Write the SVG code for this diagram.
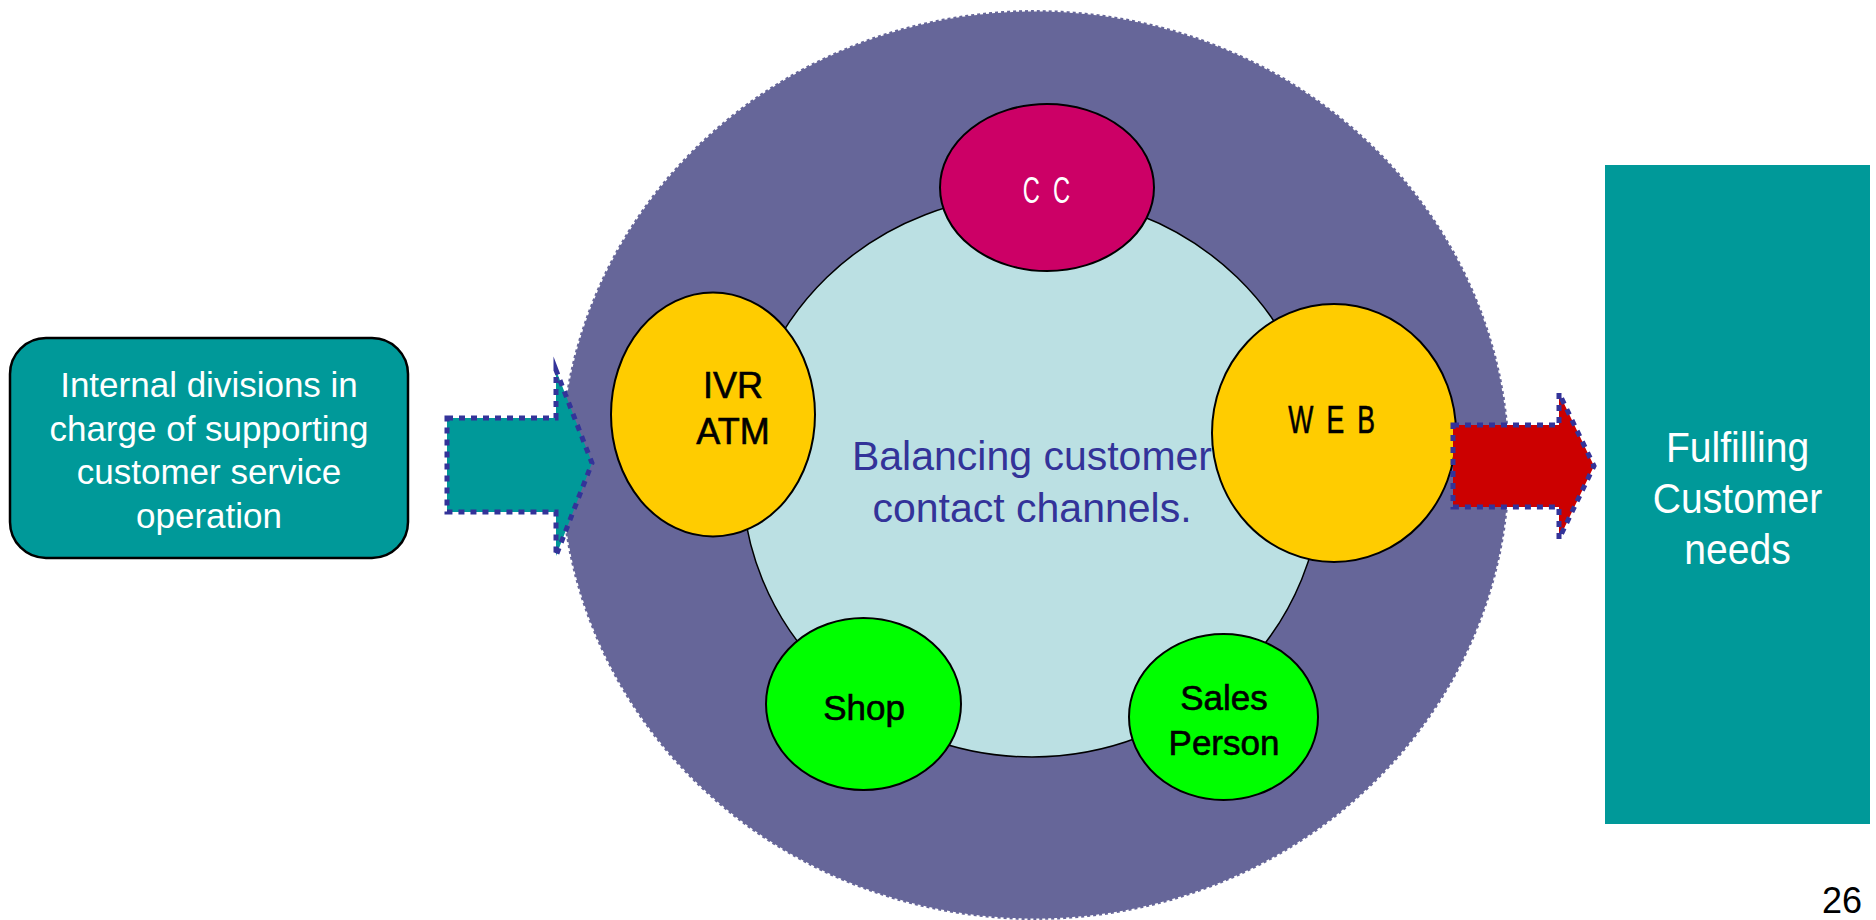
<svg xmlns="http://www.w3.org/2000/svg" width="1876" height="920" viewBox="0 0 1876 920">
  <style>
    .sans { font-family: "Liberation Sans", Arial, sans-serif; }
    .white { fill: #ffffff; }
    .dark { fill: #000000; }
    .heavy { stroke: #000000; stroke-width: 0.6; }
    .chan { stroke: #000000; stroke-width: 2; }
    .flow { stroke: #333399; stroke-width: 5; stroke-dasharray: 6 6; stroke-miterlimit: 10; stroke-linejoin: miter; }
  </style>

  <rect width="1876" height="920" fill="#ffffff"/>

  <!-- outer ring of channels -->
  <g id="ring">
    <ellipse cx="1035" cy="465" rx="475" ry="455" fill="#666699" stroke="#ffffff" stroke-width="3" stroke-dasharray="3 3"/>
  </g>

  <!-- inner hub with the central statement -->
  <g id="hub">
    <ellipse cx="1032" cy="476" rx="290" ry="281" fill="#BBE0E3" stroke="#000000" stroke-width="1.5"/>
    <text class="sans" x="1032" y="470" font-size="41" fill="#333399" text-anchor="middle">Balancing customer</text>
    <text class="sans" x="1032" y="522" font-size="41" fill="#333399" text-anchor="middle">contact channels.</text>
  </g>

  <g id="node-cc">
    <ellipse class="chan" cx="1047" cy="187.5" rx="107" ry="83.5" fill="#CC0066"/>
    <text class="sans white" transform="translate(1048,203) scale(0.64,1)" font-size="37" letter-spacing="5" text-anchor="middle">C C</text>
  </g>

  <g id="node-ivr">
    <ellipse class="chan" cx="713" cy="414.5" rx="102" ry="122" fill="#FFCC00"/>
    <text class="sans dark heavy" x="733" y="398" font-size="36" text-anchor="middle">IVR</text>
    <text class="sans dark heavy" x="733" y="444" font-size="36" text-anchor="middle">ATM</text>
  </g>

  <g id="node-web">
    <ellipse class="chan" cx="1334" cy="433" rx="122" ry="129" fill="#FFCC00"/>
    <text class="sans dark heavy" transform="translate(1333,433) scale(0.7,1)" font-size="38" letter-spacing="4" text-anchor="middle">W E B</text>
  </g>

  <g id="node-shop">
    <ellipse class="chan" cx="863.5" cy="704" rx="97.5" ry="86" fill="#00FF00"/>
    <text class="sans dark heavy" x="864" y="720" font-size="35" text-anchor="middle">Shop</text>
  </g>

  <g id="node-sales">
    <ellipse class="chan" cx="1223.5" cy="717" rx="94.5" ry="83" fill="#00FF00"/>
    <text class="sans dark heavy" x="1224" y="710" font-size="35" text-anchor="middle">Sales</text>
    <text class="sans dark heavy" x="1224" y="755" font-size="35" text-anchor="middle">Person</text>
  </g>

  <!-- source box on the left -->
  <g id="node-internal">
    <rect x="10" y="338" width="398" height="220" rx="36" ry="36" fill="#009999" stroke="#000000" stroke-width="2.5"/>
    <text class="sans white" x="209" y="397" font-size="35" text-anchor="middle">Internal divisions in</text>
    <text class="sans white" x="209" y="441" font-size="35" text-anchor="middle">charge of supporting</text>
    <text class="sans white" x="209" y="484" font-size="35" text-anchor="middle">customer service</text>
    <text class="sans white" x="209" y="528" font-size="35" text-anchor="middle">operation</text>
  </g>

  <!-- outcome box on the right -->
  <g id="node-fulfilling">
    <rect x="1605" y="165" width="265" height="659" fill="#009999"/>
    <g transform="translate(1737.5,0) scale(0.93,1)">
      <text class="sans white" x="0" y="462" font-size="42" text-anchor="middle">Fulfilling</text>
      <text class="sans white" x="0" y="513" font-size="42" text-anchor="middle">Customer</text>
      <text class="sans white" x="0" y="564" font-size="42" text-anchor="middle">needs</text>
    </g>
  </g>

  <!-- block arrows -->
  <g id="connectors">
    <polygon class="flow" points="447,418 556,418 556,370 592,463 556,556 556,512 447,512" fill="#009999"/>
    <polygon class="flow" points="1453,425 1559,425 1559,393 1594,466 1559,539 1559,507 1453,507" fill="#CC0000"/>
  </g>

  <text class="sans dark" x="1862" y="913" font-size="36" text-anchor="end">26</text>
</svg>
